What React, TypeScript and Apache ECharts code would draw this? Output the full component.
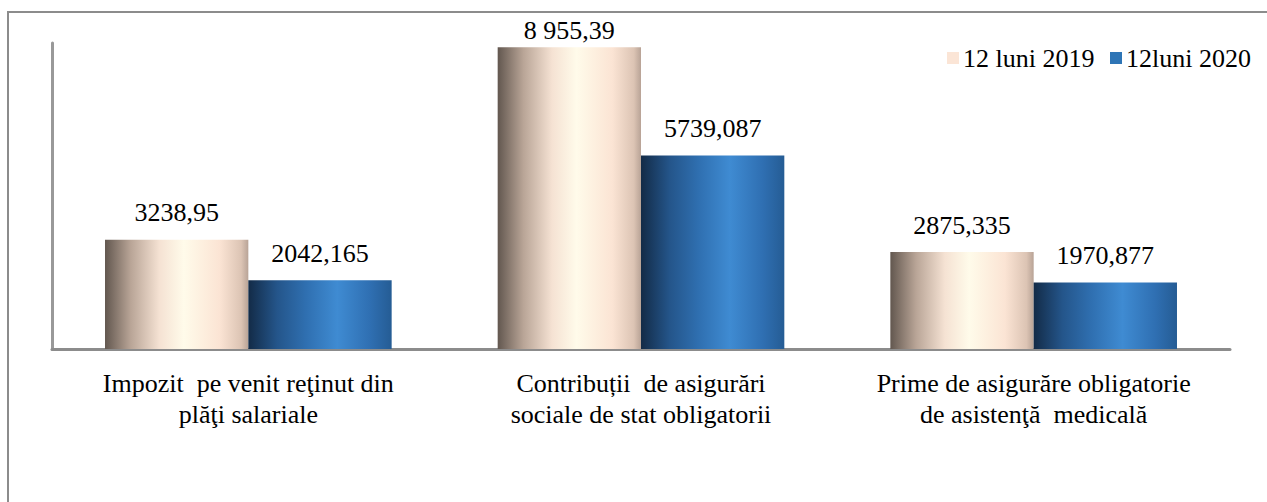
import React, { useEffect, useRef } from "react";
import * as echarts from "echarts";

const categories = [
  "Impozit  pe venit reţinut din\nplăţi salariale",
  "Contribuții  de asigurări\nsociale de stat obligatorii",
  "Prime de asigurăre obligatorie\nde asistenţă  medicală",
];
const seriesNames = ["12 luni 2019", "12luni 2020"];
const values2019 = [3238.95, 8955.39, 2875.335];
const values2020 = [2042.165, 5739.087, 1970.877];
const labels2019 = ["3238,95", "8 955,39", "2875,335"];
const labels2020 = ["2042,165", "5739,087", "1970,877"];
const legendColors = ["#fbe5d6", "#2e75b6"];

const FONT = "Liberation Serif";
const FS = 26;
const CAT_GAP = 0.27;
const W = 1267;
const H = 502;

const grad2019 = new echarts.graphic.LinearGradient(0, 0, 1, 0, [
  { offset: 0, color: "#62574f" },
  { offset: 0.18, color: "#b9a597" },
  { offset: 0.38, color: "#f5e2d3" },
  { offset: 0.55, color: "#fffbea" },
  { offset: 0.8, color: "#fbe4d4" },
  { offset: 0.95, color: "#dcc4b4" },
  { offset: 1, color: "#b8a396" },
]);
const grad2020 = new echarts.graphic.LinearGradient(0, 0, 1, 0, [
  { offset: 0, color: "#132b47" },
  { offset: 0.2, color: "#24558a" },
  { offset: 0.4, color: "#2f6fb0" },
  { offset: 0.62, color: "#3f8bd2" },
  { offset: 0.85, color: "#2f6fb2" },
  { offset: 1, color: "#255c94" },
]);

function baseOption(): any {
  return {
    animation: false,
    backgroundColor: "#ffffff",
    grid: { left: 52, right: 37, top: 43, bottom: 153 },
    xAxis: {
      type: "category",
      data: categories,
      axisLine: { show: true, lineStyle: { color: "#8c8c8c", width: 3 } },
      axisTick: { show: false },
      axisLabel: { show: false },
    },
    yAxis: {
      type: "value",
      min: 0,
      max: 9080,
      splitLine: { show: false },
      axisLabel: { show: false },
      axisTick: { show: false },
      axisLine: { show: true, lineStyle: { color: "#999999", width: 3 } },
    },
    series: [
      {
        name: seriesNames[0],
        type: "bar",
        data: values2019,
        barGap: "0%",
        barCategoryGap: CAT_GAP * 100 + "%",
        itemStyle: { color: grad2019 },
      },
      {
        name: seriesNames[1],
        type: "bar",
        data: values2020,
        barGap: "0%",
        barCategoryGap: CAT_GAP * 100 + "%",
        itemStyle: { color: grad2020 },
      },
    ],
  };
}

export default function App() {
  const ref = useRef<HTMLDivElement>(null);
  useEffect(() => {
    if (!ref.current) return;

    // 1) a temporary chart of the same size gives the pixel positions from the library's scales
    const tmpDiv = document.createElement("div");
    const tmp = echarts.init(tmpDiv, null, { renderer: "svg", width: W, height: H });
    tmp.setOption(baseOption());
    const px = (i: number) => tmp.convertToPixel({ xAxisIndex: 0 }, i) as number;
    const py = (v: number) => tmp.convertToPixel({ yAxisIndex: 0 }, v) as number;
    const catW = px(1) - px(0);
    const barW = (catW * (1 - CAT_GAP)) / 2;
    const baseY = py(0);

    const ctx = document.createElement("canvas").getContext("2d")!;
    ctx.font = FS + "px " + FONT;
    const tw = (s: string) => ctx.measureText(s).width;
    const txt = (s: string, x: number, y: number) => ({
      type: "text",
      x,
      y,
      style: { text: s, fontFamily: FONT, fontSize: FS, fill: "#000" },
    });

    const els: any[] = [
      {
        type: "rect",
        shape: { x: 8, y: 12, width: 1400, height: 600 },
        style: { fill: "none", stroke: "#8c8c8c", lineWidth: 2 },
        silent: true,
        z: -10,
      },
    ];
    const allVals = [values2019, values2020];
    const allLabs = [labels2019, labels2020];
    allVals.forEach((vals, s) => {
      vals.forEach((v, i) => {
        const cx = px(i) + (s === 0 ? -barW / 2 : barW / 2);
        const lab = allLabs[s][i];
        els.push(txt(lab, cx - tw(lab) / 2, Math.max(py(v) - 40, 17)));
      });
    });
    categories.forEach((c, i) => {
      c.split("\n").forEach((line, k) => {
        els.push(txt(line, px(i) - tw(line) / 2, baseY + 21 + k * 31));
      });
    });
    const legendX = [947, 1110];
    seriesNames.forEach((n, k) => {
      els.push({
        type: "rect",
        shape: { x: legendX[k], y: 52, width: 12, height: 12 },
        style: { fill: legendColors[k] },
      });
      els.push(txt(n, legendX[k] + 16, 45));
    });
    tmp.dispose();

    // 2) the real chart is drawn with a single setOption
    const chart = echarts.init(ref.current, null, { renderer: "svg" });
    const opt = baseOption();
    opt.graphic = els;
    chart.setOption(opt);
    return () => chart.dispose();
  }, []);
  return (
    <div
      ref={ref}
      style={{ position: "fixed", left: 0, top: 0, width: W, height: H }}
    />
  );
}
